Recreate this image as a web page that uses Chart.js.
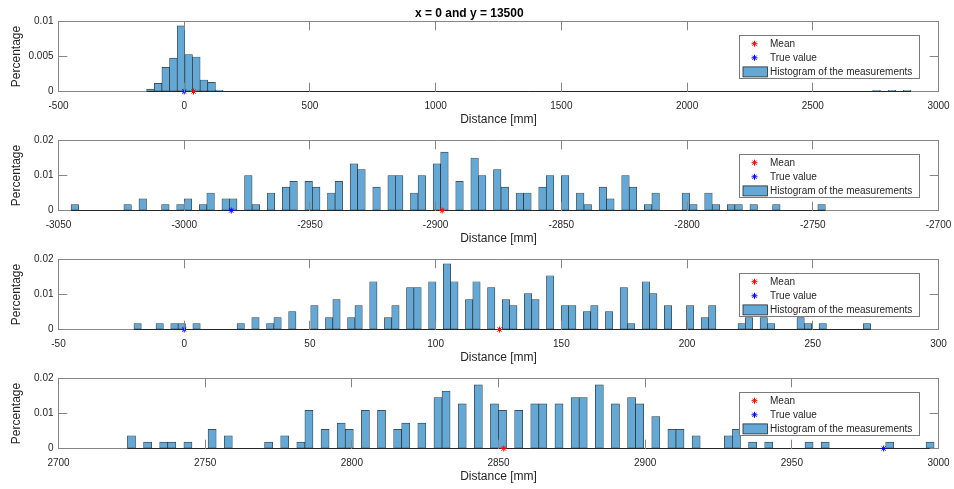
<!DOCTYPE html>
<html>
<head>
<meta charset="utf-8">
<title>Histogram of the measurements</title>
<style>
  html, body { margin: 0; padding: 0; background: #ffffff; }
  #figure { position: relative; width: 954px; height: 489px; overflow: hidden; background: #ffffff; }
  #figure canvas { position: absolute; left: 0; }
</style>
<script src="https://cdn.jsdelivr.net/npm/chart.js@4.4.1/dist/chart.umd.min.js"></script>
</head>
<body>
<div id="figure">
  <canvas id="panel1" width="954" height="140" style="top:0px"></canvas>
  <canvas id="panel2" width="954" height="140" style="top:119px"></canvas>
  <canvas id="panel3" width="954" height="140" style="top:238px"></canvas>
  <canvas id="panel4" width="954" height="140" style="top:357px"></canvas>
</div>
<script>
// ---- measurement data -------------------------------------------------------
const SAMPLE_COUNT = 200;          // number of measurements per histogram
const FIGURE_TITLE = 'x = 0 and y = 13500';

// left edge of the first bin and bin width (mm) for each panel, 100 bins each
const binStarts = [-149.5, -3045, -20, 2723.5];
const binWidths = [30.4, 3, 2.93, 2.75];

// counts per bin
const countsPanel1 = [
  2, 7, 21, 29, 57, 32, 30, 10, 8, 1,
  0, 0, 0, 0, 0, 0, 0, 0, 0, 0,
  0, 0, 0, 0, 0, 0, 0, 0, 0, 0,
  0, 0, 0, 0, 0, 0, 0, 0, 0, 0,
  0, 0, 0, 0, 0, 0, 0, 0, 0, 0,
  0, 0, 0, 0, 0, 0, 0, 0, 0, 0,
  0, 0, 0, 0, 0, 0, 0, 0, 0, 0,
  0, 0, 0, 0, 0, 0, 0, 0, 0, 0,
  0, 0, 0, 0, 0, 0, 0, 0, 0, 0,
  0, 0, 0, 0, 0, 1, 0, 1, 0, 1
];
const countsPanel2 = [
  1, 0, 0, 0, 0, 0, 0, 1, 0, 2,
  0, 0, 1, 0, 1, 2, 0, 1, 3, 0,
  2, 2, 0, 6, 1, 0, 3, 0, 4, 5,
  0, 5, 4, 0, 3, 5, 0, 8, 7, 0,
  4, 0, 6, 6, 0, 3, 6, 0, 8, 10,
  0, 5, 0, 9, 6, 0, 7, 4, 0, 3,
  3, 0, 4, 6, 0, 6, 0, 3, 1, 0,
  4, 2, 0, 6, 4, 0, 1, 3, 0, 0,
  0, 3, 1, 0, 3, 1, 0, 1, 1, 0,
  1, 0, 0, 1, 0, 0, 0, 0, 0, 1
];
const countsPanel3 = [
  1, 0, 0, 1, 0, 1, 1, 0, 1, 0,
  0, 0, 0, 0, 1, 0, 2, 0, 1, 2,
  0, 3, 0, 0, 4, 0, 2, 5, 0, 2,
  4, 0, 8, 0, 2, 4, 0, 7, 7, 0,
  8, 0, 11, 8, 0, 5, 8, 0, 7, 0,
  5, 4, 0, 6, 5, 0, 9, 0, 4, 4,
  0, 3, 4, 0, 3, 0, 7, 1, 0, 8,
  6, 0, 4, 0, 0, 4, 0, 2, 4, 0,
  0, 0, 1, 2, 0, 2, 1, 0, 0, 0,
  2, 1, 0, 1, 0, 0, 0, 0, 0, 1
];
const countsPanel4 = [
  2, 0, 1, 0, 1, 1, 0, 1, 0, 0,
  3, 0, 2, 0, 0, 0, 0, 1, 0, 2,
  0, 1, 6, 0, 3, 0, 4, 3, 0, 6,
  0, 6, 0, 3, 4, 0, 4, 0, 8, 9,
  0, 7, 0, 10, 0, 7, 6, 0, 6, 0,
  7, 7, 0, 7, 0, 8, 8, 0, 10, 0,
  7, 0, 8, 7, 0, 5, 0, 3, 3, 0,
  2, 0, 0, 0, 2, 3, 0, 1, 0, 1,
  0, 0, 0, 0, 1, 0, 1, 0, 0, 0,
  0, 0, 0, 0, 1, 0, 0, 0, 0, 1
];

// mean of the measurements and true value (mm)
const meanValues = [37, -2897.4, 125.4, 2851.8];
const trueValues = [0, -2981.3, 0, 2981.3];

// axis ticks
const xTicksPanel1 = [-500, 0, 500, 1000, 1500, 2000, 2500, 3000];
const xTicksPanel2 = [-3050, -3000, -2950, -2900, -2850, -2800, -2750, -2700];
const xTicksPanel3 = [-50, 0, 50, 100, 150, 200, 250, 300];
const xTicksPanel4 = [2700, 2750, 2800, 2850, 2900, 2950, 3000];
const yTicksPanel1 = [0, 0.005, 0.01];
const yTicksOther = [0, 0.01, 0.02];

// ---- styling ----------------------------------------------------------------
const FONT_FAMILY = "'Liberation Sans', Arial, Helvetica, sans-serif";
const TEXT_COLOR = '#262626';
const AXIS_COLOR = '#858585';
const BAR_FILL = 'rgb(100, 168, 213)';
const BAR_EDGE = 'rgba(30, 30, 30, 0.9)';
const TICK_LEN = 8.8;

Chart.defaults.font.family = FONT_FAMILY;
Chart.defaults.color = TEXT_COLOR;

// legend drawn as a framed box inside the plot area (top right)
const boxedLegend = {
  id: 'boxedLegend',
  afterDraw(chart) {
    const { ctx, chartArea } = chart;
    const w = 180, h = 43;
    const left = chartArea.right - 199;
    const top = chartArea.top + 14;
    ctx.save();
    ctx.fillStyle = '#ffffff';
    ctx.fillRect(left, top, w, h);
    ctx.strokeStyle = '#7a7a7a';
    ctx.lineWidth = 1;
    ctx.strokeRect(left, top, w, h);
    ctx.font = '10px ' + FONT_FAMILY;
    ctx.textBaseline = 'middle';
    ctx.textAlign = 'left';
    const entries = chart.data.datasets.filter(d => d.label);
    entries.forEach((ds, i) => {
      const cy = top + 8.2 + i * 14.1;
      if (ds.type === 'scatter') {
        ctx.strokeStyle = ds.borderColor;
        ctx.lineWidth = 1;
        const r = 3, cx = left + 15;
        ctx.beginPath();
        ctx.moveTo(cx - r, cy); ctx.lineTo(cx + r, cy);
        ctx.moveTo(cx, cy - r); ctx.lineTo(cx, cy + r);
        const d = r * Math.SQRT1_2;
        ctx.moveTo(cx - d, cy - d); ctx.lineTo(cx + d, cy + d);
        ctx.moveTo(cx - d, cy + d); ctx.lineTo(cx + d, cy - d);
        ctx.stroke();
      } else {
        ctx.fillStyle = ds.backgroundColor;
        ctx.fillRect(left + 3.5, cy - 5, 24.5, 10);
        ctx.strokeStyle = '#262626';
        ctx.lineWidth = 0.8;
        ctx.strokeRect(left + 3.5, cy - 5, 24.5, 10);
      }
      ctx.fillStyle = TEXT_COLOR;
      ctx.fillText(ds.label, left + 30.5, cy + 0.5);
    });
    ctx.restore();
  }
};

function tickSetter(values) {
  return (scale) => { scale.ticks = values.map(v => ({ value: v })); };
}

// fixed axis thickness, no extra room reserved for overhanging labels
function fixSize(prop, size) {
  return (s) => {
    s[prop] = size;
    s.paddingLeft = 0; s.paddingRight = 0;
    s.paddingTop = 0; s.paddingBottom = 0;
  };
}

function buildPanel(canvasId, idx, counts, xTicks, yTicks, withTitle) {
  const start = binStarts[idx];
  const width = binWidths[idx];
  // probability density of each bin
  const bars = counts.map((c, k) => ({
    x: start + (k + 0.5) * width,
    y: c / (SAMPLE_COUNT * width)
  }));
  const end = start + counts.length * width;
  const xMin = xTicks[0], xMax = xTicks[xTicks.length - 1];
  const yMin = yTicks[0], yMax = yTicks[yTicks.length - 1];

  const gridOpts = {
    display: true,
    drawOnChartArea: false,
    drawTicks: true,
    tickLength: -TICK_LEN,
    color: AXIS_COLOR,
    lineWidth: 1,
    offset: false,
    z: 1
  };
  const borderOpts = { display: true, color: AXIS_COLOR, width: 1 };

  const chart = new Chart(document.getElementById(canvasId), {
    type: 'bar',
    data: {
      datasets: [
        {
          type: 'scatter', label: 'Mean',
          data: [{ x: meanValues[idx], y: 0 }],
          pointStyle: 'star', pointRadius: 3, borderWidth: 1,
          borderColor: '#ff0000', backgroundColor: '#ff0000',
          clip: false, order: 0
        },
        {
          type: 'scatter', label: 'True value',
          data: [{ x: trueValues[idx], y: 0 }],
          pointStyle: 'star', pointRadius: 3, borderWidth: 1,
          borderColor: '#0000ff', backgroundColor: '#0000ff',
          clip: false, order: 1
        },
        {
          type: 'bar', label: 'Histogram of the measurements',
          data: bars,
          backgroundColor: BAR_FILL, borderColor: BAR_EDGE,
          borderWidth: 0.7, borderSkipped: false,
          barPercentage: 1, categoryPercentage: 1, grouped: false,
          order: 3
        },
        {
          // edges of the empty bins along zero
          type: 'line', label: '',
          data: [{ x: start, y: 0 }, { x: end, y: 0 }],
          borderColor: '#262626', borderWidth: 1,
          pointRadius: 0, clip: false, order: 2
        }
      ]
    },
    options: {
      responsive: false,
      animation: false,
      devicePixelRatio: 1,
      events: [],
      layout: {
        autoPadding: false,
        padding: { left: 0, right: 15.5, top: withTitle ? 0 : 21.5, bottom: 0 }
      },
      plugins: {
        legend: { display: false },
        tooltip: { enabled: false },
        title: {
          display: withTitle,
          text: FIGURE_TITLE,
          color: '#000000',
          font: { size: 12, weight: 'bold' },
          padding: { top: 6.8, bottom: 0.3 }
        }
      },
      scales: {
        x: {
          type: 'linear', position: 'bottom', min: xMin, max: xMax, offset: false,
          afterBuildTicks: tickSetter(xTicks),
          afterFit: fixSize('height', 48.5),
          grid: gridOpts, border: borderOpts,
          ticks: {
            padding: 17.3, color: TEXT_COLOR, font: { size: 10 },
            maxRotation: 0, autoSkip: false, callback: (v) => String(v)
          },
          title: {
            display: true, text: 'Distance [mm]', color: TEXT_COLOR,
            font: { size: 12 }, padding: { top: 0, bottom: 13.2 }
          }
        },
        xTop: {
          type: 'linear', position: 'top', min: xMin, max: xMax, offset: false,
          afterBuildTicks: tickSetter(xTicks),
          afterFit: fixSize('height', 0),
          grid: gridOpts, border: borderOpts,
          ticks: { display: false }
        },
        y: {
          type: 'linear', position: 'left', min: yMin, max: yMax,
          afterBuildTicks: tickSetter(yTicks),
          afterFit: fixSize('width', 58.5),
          grid: gridOpts, border: borderOpts,
          ticks: {
            padding: 13.8, color: TEXT_COLOR, font: { size: 10 },
            callback: (v) => String(v)
          },
          title: {
            display: true, text: 'Percentage', color: TEXT_COLOR,
            font: { size: 12 }, padding: { top: 9.8, bottom: 0 }
          }
        },
        yRight: {
          type: 'linear', position: 'right', min: yMin, max: yMax,
          afterBuildTicks: tickSetter(yTicks),
          afterFit: fixSize('width', 0),
          grid: gridOpts, border: borderOpts,
          ticks: { display: false }
        }
      }
    },
    plugins: [boxedLegend]
  });
  // second pass: the axis frame positions are known once the tick marks have been laid out
  chart.draw();
  return chart;
}

buildPanel('panel1', 0, countsPanel1, xTicksPanel1, yTicksPanel1, true);
buildPanel('panel2', 1, countsPanel2, xTicksPanel2, yTicksOther, false);
buildPanel('panel3', 2, countsPanel3, xTicksPanel3, yTicksOther, false);
buildPanel('panel4', 3, countsPanel4, xTicksPanel4, yTicksOther, false);
</script>
</body>
</html>
